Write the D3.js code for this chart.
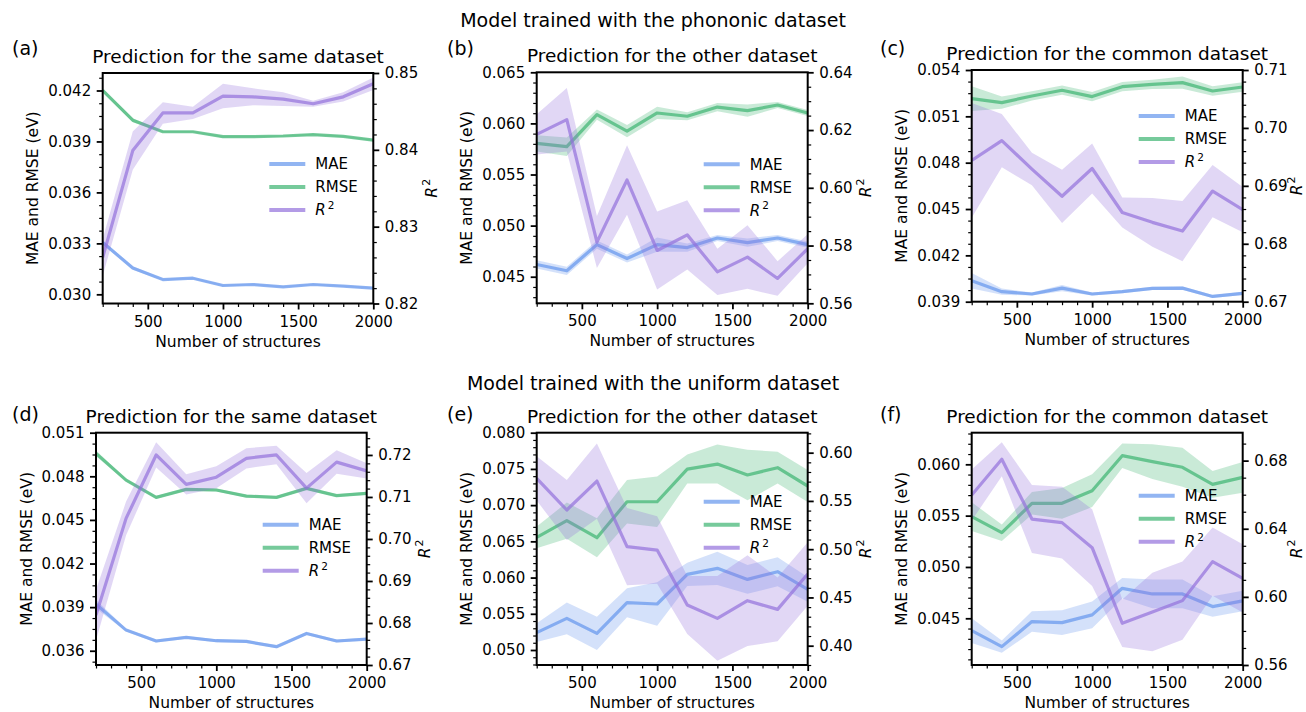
<!DOCTYPE html>
<html>
<head>
<meta charset="utf-8">
<script src="https://cdn.jsdelivr.net/npm/d3@7"></script>
<style>
  body { margin: 0; background: #fff; }
  text { font-family: 'DejaVu Sans', sans-serif; fill: #000; }
</style>
</head>
<body>
<svg id="fig" width="1306" height="712"></svg>
<script>
// ---- data ----
const structures = [200, 400, 600, 800, 1000, 1200, 1400, 1600, 1800, 2000]

const rowTitles = ['Model trained with the phononic dataset', 'Model trained with the uniform dataset']
const panelLetters = ['(a)', '(b)', '(c)', '(d)', '(e)', '(f)']
const panelTitles = [
  'Prediction for the same dataset', 'Prediction for the other dataset', 'Prediction for the common dataset',
  'Prediction for the same dataset', 'Prediction for the other dataset', 'Prediction for the common dataset'
]

const mae = [
  [0.03305, 0.03155, 0.03087, 0.03095, 0.03052, 0.03058, 0.03044, 0.03058, 0.03048, 0.03037],
  [0.0462, 0.04558, 0.04814, 0.04678, 0.04814, 0.04785, 0.04879, 0.04833, 0.04879, 0.04814],
  [0.04036, 0.03965, 0.0395, 0.03988, 0.0395, 0.03965, 0.03986, 0.03988, 0.03934, 0.03954],
  [0.03921, 0.03742, 0.03667, 0.03692, 0.03669, 0.03664, 0.03628, 0.03719, 0.03667, 0.0368],
  [0.0524, 0.05437, 0.0523, 0.05653, 0.05635, 0.06044, 0.06127, 0.05975, 0.06081, 0.05837],
  [0.0438, 0.04224, 0.04468, 0.04458, 0.04533, 0.04792, 0.04737, 0.04737, 0.04614, 0.04669]
]
const maeErr = [
  [0.00012, 0.0001, 0.00006, 0.00006, 0.00006, 0.00006, 0.00005, 0.00006, 0.00005, 0.00006],
  [0.0004, 0.0004, 0.0004, 0.0004, 0.0007, 0.0004, 0.0003, 0.0004, 0.0003, 0.0003],
  [0.0005, 0.0002, 0.0001, 0.0002, 0.0001, 0.0001, 0.0001, 0.0001, 0.0001, 0.0001],
  [0.0003, 0.0001, 0.0001, 0.0001, 0.0001, 0.0001, 0.0001, 0.0001, 0.0001, 0.0001],
  [0.0013, 0.0022, 0.0023, 0.002, 0.003, 0.0016, 0.0023, 0.002, 0.002, 0.0017],
  [0.0012, 0.0006, 0.001, 0.0012, 0.0013, 0.001, 0.0014, 0.0014, 0.001, 0.001]
]
const rmse = [
  [0.0420, 0.04025, 0.03957, 0.03957, 0.03928, 0.03928, 0.03932, 0.0394, 0.0393, 0.03908],
  [0.05804, 0.05772, 0.06086, 0.05924, 0.06102, 0.0607, 0.0616, 0.06125, 0.0618, 0.06102],
  [0.05215, 0.05189, 0.05232, 0.05269, 0.05228, 0.05292, 0.05307, 0.05318, 0.05264, 0.0529],
  [0.04958, 0.04774, 0.04655, 0.0471, 0.04706, 0.04664, 0.04655, 0.04717, 0.04667, 0.04683],
  [0.06555, 0.06785, 0.0655, 0.07047, 0.07047, 0.07498, 0.07567, 0.07416, 0.07517, 0.07264],
  [0.0549, 0.05334, 0.0562, 0.0562, 0.05743, 0.06084, 0.06026, 0.05971, 0.05805, 0.05873]
]
const rmseErr = [
  [0.0001, 0.00012, 0.00005, 0.00005, 0.00006, 0.00005, 0.00005, 0.00005, 0.00005, 0.00005],
  [0.0008, 0.0009, 0.0005, 0.0006, 0.0006, 0.0004, 0.0004, 0.0006, 0.0003, 0.0003],
  [0.0008, 0.0004, 0.0003, 0.0003, 0.0003, 0.0003, 0.0003, 0.0004, 0.0003, 0.0003],
  [0.0002, 0.0001, 0.0001, 0.0001, 0.0001, 0.0001, 0.0001, 0.0001, 0.0001, 0.0001],
  [0.0015, 0.0025, 0.0027, 0.003, 0.0035, 0.002, 0.0027, 0.0035, 0.0022, 0.0022],
  [0.0014, 0.0008, 0.0011, 0.0015, 0.0016, 0.0012, 0.0017, 0.0019, 0.0013, 0.0015]
]
const r2 = [
  [0.8260, 0.8399, 0.8448, 0.8448, 0.8470, 0.8469, 0.8466, 0.8460, 0.8469, 0.8486],
  [0.6185, 0.6236, 0.5812, 0.6027, 0.5783, 0.5837, 0.5709, 0.5760, 0.5686, 0.5789],
  [0.6944, 0.6978, 0.6929, 0.6882, 0.6930, 0.6854, 0.6837, 0.6822, 0.6891, 0.6859],
  [0.6819, 0.7049, 0.7200, 0.7130, 0.7147, 0.7192, 0.7200, 0.7121, 0.7183, 0.7162],
  [0.5734, 0.5406, 0.5706, 0.5026, 0.4991, 0.4421, 0.4283, 0.4466, 0.4376, 0.4743],
  [0.6598, 0.6808, 0.6457, 0.6436, 0.6289, 0.5845, 0.5911, 0.5978, 0.6207, 0.6109]
]
const r2Err = [
  [0.0024, 0.0025, 0.0014, 0.0008, 0.0016, 0.0011, 0.0009, 0.0004, 0.0006, 0.0008],
  [0.007, 0.011, 0.009, 0.012, 0.0135, 0.012, 0.008, 0.011, 0.006, 0.005],
  [0.0099, 0.0046, 0.0028, 0.0046, 0.0043, 0.0026, 0.0042, 0.0052, 0.0045, 0.0039],
  [0.006, 0.004, 0.003, 0.0024, 0.0026, 0.0024, 0.0022, 0.0036, 0.0028, 0.0018],
  [0.023, 0.031, 0.039, 0.04, 0.035, 0.03, 0.044, 0.047, 0.033, 0.033],
  [0.015, 0.01, 0.02, 0.021, 0.0225, 0.014, 0.023, 0.023, 0.02, 0.02]
]

// axis limits and tick labels
const xLimits = [200, 2000]
const xTicks = [500, 1000, 1500, 2000]
const leftLimits = [[0.02946, 0.04303], [0.0424, 0.065], [0.039, 0.054], [0.03502, 0.051], [0.04793, 0.080], [0.04045, 0.06308]]
const rightLimits = [[0.82, 0.85], [0.56, 0.64], [0.67, 0.71], [0.67, 0.7253], [0.38, 0.6207], [0.56, 0.6964]]
const leftTicks = [
  [0.030, 0.033, 0.036, 0.039, 0.042],
  [0.045, 0.050, 0.055, 0.060, 0.065],
  [0.039, 0.042, 0.045, 0.048, 0.051, 0.054],
  [0.036, 0.039, 0.042, 0.045, 0.048, 0.051],
  [0.050, 0.055, 0.060, 0.065, 0.070, 0.075, 0.080],
  [0.045, 0.050, 0.055, 0.060]
]
const rightTicks = [
  [0.82, 0.83, 0.84, 0.85],
  [0.56, 0.58, 0.60, 0.62, 0.64],
  [0.67, 0.68, 0.69, 0.70, 0.71],
  [0.67, 0.68, 0.69, 0.70, 0.71, 0.72],
  [0.40, 0.45, 0.50, 0.55, 0.60],
  [0.56, 0.60, 0.64, 0.68]
]

// ---- layout ----
const layout = [
  { x0: 102.7, x1: 373.3, y0: 73, y1: 303.5, lx: 12, ly: 55, legY: 91 },
  { x0: 536.7, x1: 807.7, y0: 72.3, y1: 303.3, lx: 447, ly: 55, legY: 92 },
  { x0: 971.7, x1: 1242.7, y0: 70, y1: 301.7, lx: 880, ly: 55, legY: 46 },
  { x0: 96, x1: 366.7, y0: 432.7, y1: 665, lx: 12, ly: 421, legY: 92 },
  { x0: 536.7, x1: 807.7, y0: 432.7, y1: 665, lx: 447, ly: 421, legY: 69 },
  { x0: 971.7, x1: 1242.7, y0: 432.7, y1: 665, lx: 880, ly: 421, legY: 63 }
]
const rowTitleY = [27, 390]

const colors = { mae: 'rgb(100,149,237)', rmse: 'rgb(60,179,113)', r2: 'rgb(147,112,219)' }
const lineOpacity = 0.7
const bandOpacity = 0.28

const svg = d3.select('#fig')

// matplotlib AutoMinorLocator behaviour
function minorTicks(ticks, domain) {
  const step = ticks[1] - ticks[0]
  const mant = step / Math.pow(10, Math.floor(Math.log10(step) + 1e-9))
  const nd = [1, 2.5, 5, 10].some(v => Math.abs(mant - v) < 1e-6) ? 5 : 4
  const s = step / nd
  const out = []
  const kStart = Math.ceil((domain[0] - ticks[0]) / s - 1e-6)
  for (let k = kStart; ticks[0] + k * s <= domain[1] + 1e-9; k++) {
    if (((k % nd) + nd) % nd !== 0) out.push(ticks[0] + k * s)
  }
  return out
}

function styleAxis(g, width) {
  g.select('.domain').remove()
  g.selectAll('line').attr('stroke', '#000').attr('stroke-width', width)
  g.selectAll('text').attr('font-size', 15).attr('font-family', "'DejaVu Sans', sans-serif")
}

rowTitles.forEach((t, i) => {
  svg.append('text')
    .attr('x', 653).attr('y', rowTitleY[i])
    .attr('text-anchor', 'middle').attr('font-size', 19)
    .text(t)
})

layout.forEach((L, p) => {
  const x = d3.scaleLinear().domain(xLimits).range([L.x0, L.x1])
  const yL = d3.scaleLinear().domain(leftLimits[p]).range([L.y1, L.y0])
  const yR = d3.scaleLinear().domain(rightLimits[p]).range([L.y1, L.y0])

  const clipId = 'clip' + p
  svg.append('clipPath').attr('id', clipId)
    .append('rect').attr('x', L.x0).attr('y', L.y0).attr('width', L.x1 - L.x0).attr('height', L.y1 - L.y0)

  const plot = svg.append('g').attr('clip-path', `url(#${clipId})`)

  const series = [
    { mean: mae[p], err: maeErr[p], y: yL, color: colors.mae },
    { mean: rmse[p], err: rmseErr[p], y: yL, color: colors.rmse },
    { mean: r2[p], err: r2Err[p], y: yR, color: colors.r2 }
  ]

  series.forEach(s => {
    const pts = structures.map((n, i) => ({ n, m: s.mean[i], e: s.err[i] }))
    const area = d3.area()
      .x(d => x(d.n))
      .y0(d => s.y(d.m - d.e))
      .y1(d => s.y(d.m + d.e))
    const line = d3.line().x(d => x(d.n)).y(d => s.y(d.m))
    plot.append('path').attr('d', area(pts))
      .attr('fill', s.color).attr('fill-opacity', bandOpacity)
    plot.append('path').attr('d', line(pts))
      .attr('fill', 'none').attr('stroke', s.color)
      .attr('stroke-opacity', lineOpacity).attr('stroke-width', 3.2)
      .attr('stroke-linejoin', 'round')
  })

  // axes: major then minor
  const gx = svg.append('g').attr('transform', `translate(0,${L.y1})`)
  gx.call(d3.axisBottom(x).tickValues(xTicks).tickSize(6).tickPadding(6.5).tickFormat(d3.format('d')))
  styleAxis(gx, 1.8)
  const gxm = svg.append('g').attr('transform', `translate(0,${L.y1})`)
  gxm.call(d3.axisBottom(x).tickValues(minorTicks(xTicks, xLimits)).tickSize(3.5).tickFormat(''))
  styleAxis(gxm, 1.2)

  const gl = svg.append('g').attr('transform', `translate(${L.x0},0)`)
  gl.call(d3.axisLeft(yL).tickValues(leftTicks[p]).tickSize(6).tickPadding(5.5).tickFormat(d3.format('.3f')))
  styleAxis(gl, 1.8)
  const glm = svg.append('g').attr('transform', `translate(${L.x0},0)`)
  glm.call(d3.axisLeft(yL).tickValues(minorTicks(leftTicks[p], leftLimits[p])).tickSize(3.5).tickFormat(''))
  styleAxis(glm, 1.2)

  const gr = svg.append('g').attr('transform', `translate(${L.x1},0)`)
  gr.call(d3.axisRight(yR).tickValues(rightTicks[p]).tickSize(6).tickPadding(5.5).tickFormat(d3.format('.2f')))
  styleAxis(gr, 1.8)
  const grm = svg.append('g').attr('transform', `translate(${L.x1},0)`)
  grm.call(d3.axisRight(yR).tickValues(minorTicks(rightTicks[p], rightLimits[p])).tickSize(3.5).tickFormat(''))
  styleAxis(grm, 1.2)

  // frame
  svg.append('rect')
    .attr('x', L.x0).attr('y', L.y0).attr('width', L.x1 - L.x0).attr('height', L.y1 - L.y0)
    .attr('fill', 'none').attr('stroke', '#000').attr('stroke-width', 2)

  const cx = (L.x0 + L.x1) / 2
  const cy = (L.y0 + L.y1) / 2

  // axis labels
  svg.append('text')
    .attr('x', cx).attr('y', L.y1 + 43)
    .attr('text-anchor', 'middle').attr('font-size', 15.5)
    .text('Number of structures')

  const lb = gl.node().getBBox()
  svg.append('text')
    .attr('transform', `translate(${L.x0 + lb.x - 10},${cy}) rotate(-90)`)
    .attr('text-anchor', 'middle').attr('font-size', 15.5)
    .text('MAE and RMSE (eV)')

  // right label sits against the figure edge in the outer column
  const rb = gr.node().getBBox()
  const rx = Math.min(L.x1 + rb.x + rb.width + 18.5, 1302)
  const rl = svg.append('text')
    .attr('transform', `translate(${rx},${cy}) rotate(-90)`)
    .attr('text-anchor', 'middle').attr('font-size', 15.5)
  rl.append('tspan').attr('font-style', 'italic').text('R')
  rl.append('tspan').attr('font-size', 11).attr('dy', -7).attr('dx', 1).text('2')

  // title and panel letter
  svg.append('text')
    .attr('x', cx).attr('y', L.y0 - 10)
    .attr('text-anchor', 'middle').attr('font-size', 18.5)
    .text(panelTitles[p])
  svg.append('text')
    .attr('x', L.lx).attr('y', L.ly)
    .attr('font-size', 19)
    .text(panelLetters[p])

  // legend
  const legend = svg.append('g').attr('transform', `translate(${L.x1 - 104},${L.y0 + L.legY})`)
  const names = [['MAE', colors.mae], ['RMSE', colors.rmse], ['R', colors.r2]]
  names.forEach(([name, c], i) => {
    const row = legend.append('g').attr('transform', `translate(0,${i * 23})`)
    row.append('line').attr('x1', 0).attr('x2', 36)
      .attr('stroke', c).attr('stroke-opacity', lineOpacity).attr('stroke-width', 4)
    const t = row.append('text').attr('x', 46).attr('y', 0).attr('dy', '0.36em').attr('font-size', 15)
    if (name === 'R') {
      t.append('tspan').attr('font-style', 'italic').text('R')
      t.append('tspan').attr('font-size', 10.5).attr('dy', -6.5).attr('dx', 2).text('2')
    } else {
      t.text(name)
    }
  })
})
</script>
</body>
</html>
